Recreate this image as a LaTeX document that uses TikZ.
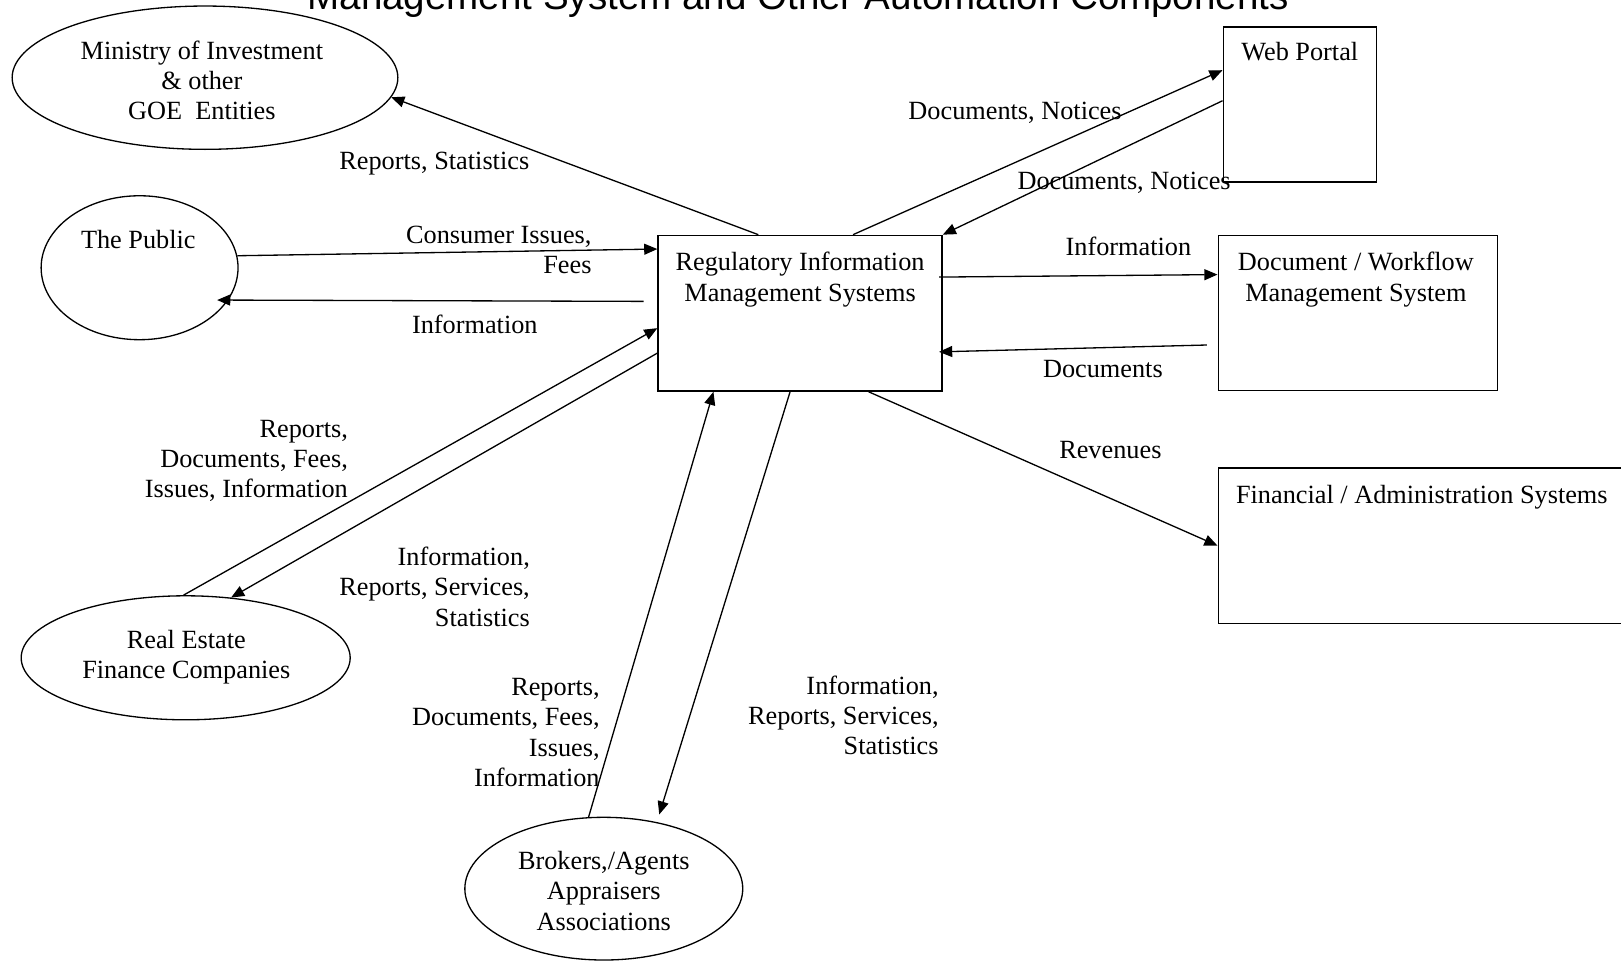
\documentclass[tikz,border=0pt]{standalone}
\usepackage{fontspec}
\setmainfont{Liberation Serif}
\newfontfamily\titlefont{Liberation Sans}
\usepackage{tikz}
\usetikzlibrary{positioning,shapes.geometric,arrows.meta}

\tikzset{
  box/.style={draw, rectangle, line width=0.6pt, inner sep=0pt},
  oval/.style={draw, ellipse, line width=0.6pt, inner sep=0pt},
  txt/.style={inner sep=0pt, align=center, font=\fontsize{12}{13.8}\selectfont},
  rtxt/.style={txt, align=right, anchor=east},
  flow/.style={line width=0.6pt, -{Triangle[length=6pt,width=5pt]}}
}

\begin{document}
\begin{tikzpicture}
    \useasboundingbox (0,0) rectangle (26.015,15.487);
    \node[anchor=base, inner sep=0pt, font=\titlefont\fontsize{17.6}{21}\selectfont] (title) at (12.81,15.34) {Management System and Other Automation Components};

    \node[oval, minimum width=6.19cm, minimum height=2.30cm] (min) at (3.29,14.24) {};
    \node[oval, minimum width=3.16cm, minimum height=2.31cm] (pub) at (2.24,11.19) {};
    \node[oval, minimum width=5.28cm, minimum height=1.99cm] (rec) at (2.98,4.93) {};
    \node[oval, minimum width=4.46cm, minimum height=2.29cm] (brk) at (9.69,1.225) {};
    \node[box, minimum width=2.46cm, minimum height=2.49cm] (web) at (20.86,13.81) {};
    \node[box, minimum width=4.56cm, minimum height=2.50cm] (rims) at (12.84,10.46) {};
    \node[box, minimum width=4.48cm, minimum height=2.49cm] (dwf) at (21.79,10.46) {};
    \node[box, minimum width=6.6cm, minimum height=2.49cm] (fin) at (22.85,6.73) {};

    \node[txt] (mintxt) at (3.24,14.195) {Ministry of Investment\\\& other\\GOE\ \ Entities};
    \node[txt] (pubtxt) at (2.22,11.64) {The Public};
    \node[txt] (rectxt) at (2.99,4.94) {Real Estate\\Finance Companies};
    \node[txt] (brktxt) at (9.69,1.19) {Brokers,/Agents\\Appraisers\\Associations};
    \node[txt] (webtxt) at (20.86,14.66) {Web Portal};
    \node[txt] (rimstxt) at (12.84,11.00) {Regulatory Information\\Management Systems};
    \node[txt] (dwftxt) at (21.76,11.00) {Document / Workflow\\Management System};
    \node[txt, anchor=west] (fintxt) at (19.83,7.51) {Financial / Administration Systems};

    \draw[flow] ([xshift=-0.67cm]rims.north) -- (min.-6);
    \draw[flow] (pub.7.7) -- ([yshift=1.03cm]rims.west);
    \draw[flow] ([xshift=-0.22cm,yshift=0.19cm]rims.west) -- ([xshift=-0.18cm]pub.-20.7);
    \draw[flow] (rec.92) -- ([yshift=-0.24cm]rims.west);
    \draw[flow] ([yshift=-0.64cm]rims.west) -- (rec.53);
    \draw[flow] (brk.102) -- ([xshift=-1.39cm]rims.south);
    \draw[flow] ([xshift=-0.16cm]rims.south) -- ([yshift=0.13cm]brk.50);
    \draw[flow] ([xshift=0.85cm]rims.north) -- ([yshift=0.55cm]web.west);
    \draw[flow] ([yshift=0.06cm]web.west) -- (rims.north east);
    \draw[flow] ([xshift=-0.06cm,yshift=0.58cm]rims.east) -- ([yshift=0.62cm]dwf.west);
    \draw[flow] ([xshift=-0.17cm,yshift=-0.51cm]dwf.west) -- ([xshift=-0.06cm,yshift=-0.62cm]rims.east);
    \draw[flow] ([xshift=1.10cm]rims.south) -- (fin.west);

    \node[txt] (l1) at (6.97,12.86) {Reports, Statistics};
    \node[rtxt] (l2) at (9.50,11.48) {Consumer Issues,\\Fees};
    \node[txt] (l3) at (7.62,10.28) {Information};
    \node[rtxt] (l4) at (5.59,8.09) {Reports,\\Documents, Fees,\\Issues, Information};
    \node[rtxt] (l5) at (8.51,6.07) {Information,\\Reports, Services,\\Statistics};
    \node[rtxt] (l6) at (9.63,3.73) {Reports,\\Documents, Fees,\\Issues,\\Information};
    \node[rtxt] (l7) at (15.07,4.01) {Information,\\Reports, Services,\\Statistics};
    \node[txt] (l8) at (16.29,13.67) {Documents, Notices};
    \node[txt] (l9) at (18.04,12.55) {Documents, Notices};
    \node[txt] (l10) at (18.11,11.54) {Information};
    \node[txt] (l11) at (17.70,9.57) {Documents};
    \node[txt] (l12) at (17.82,8.27) {Revenues};
\end{tikzpicture}
\end{document}
